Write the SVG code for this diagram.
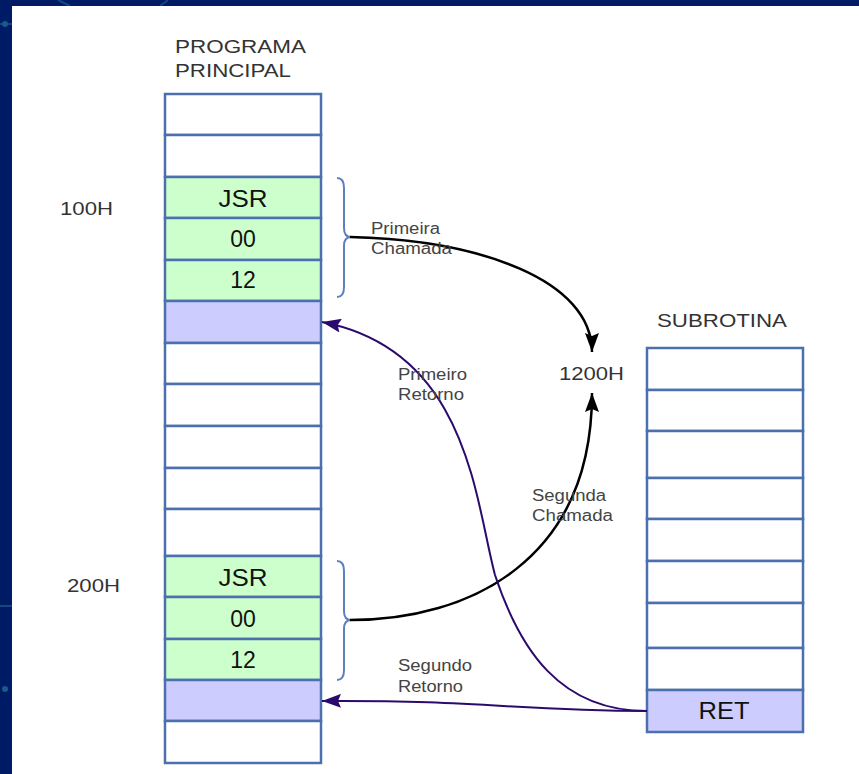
<svg xmlns="http://www.w3.org/2000/svg" width="859" height="774" viewBox="0 0 859 774">
  <style>
    .cell { stroke: #4b70ad; stroke-width: 2.5; fill: #ffffff; }
    .g { fill: #ccffcc; }
    .p { fill: #ccccff; }
    .ct { font-family: "Liberation Sans", Arial, sans-serif; font-size: 23px; fill: #111111; text-anchor: middle; }
    .hd { font-family: "Liberation Sans", Arial, sans-serif; font-size: 19px; fill: #333333; }
    .lb { font-family: "Liberation Sans", Arial, sans-serif; font-size: 16px; fill: #444444; }
    .brace { fill: none; stroke: #5b7fbf; stroke-width: 2; }
    .call { fill: none; stroke: #000000; stroke-width: 2.5; }
    .ret { fill: none; stroke: #2b0a6e; stroke-width: 2; }
  </style>
  <defs>
    <marker id="arrowBlack" markerUnits="userSpaceOnUse" markerWidth="20" markerHeight="14" refX="19" refY="7" orient="auto">
      <path d="M0,0 L19,7 L0,14 L3,7 Z" fill="#000000"/>
    </marker>
    <marker id="arrowPurple" markerUnits="userSpaceOnUse" markerWidth="20" markerHeight="14" refX="19" refY="7" orient="auto">
      <path d="M0,0 L19,7 L0,14 L3,7 Z" fill="#2b0a6e"/>
    </marker>
  </defs>

  <!-- slide frame -->
  <rect x="0" y="0" width="859" height="774" fill="#001b66"/>
  <g stroke="#1a5a8a" stroke-width="2" fill="none" opacity="0.7">
    <path d="M0,24 L12,24"/>
    <path d="M58,0 L70,6"/>
    <path d="M160,6 L168,0"/>
    <path d="M0,606 L12,606"/>
  </g>
  <circle cx="5" cy="24" r="3" fill="#1a5a8a"/>
  <circle cx="5" cy="689" r="3" fill="#1a5a8a"/>
  <rect x="12" y="6" width="847" height="768" fill="#ffffff"/>

  <!-- headings and addresses -->
  <g id="titles">
    <text class="hd" x="175" y="53" textLength="131" lengthAdjust="spacingAndGlyphs">PROGRAMA</text>
    <text class="hd" x="175" y="77" textLength="116" lengthAdjust="spacingAndGlyphs">PRINCIPAL</text>
    <text class="hd" x="657" y="327" textLength="130" lengthAdjust="spacingAndGlyphs">SUBROTINA</text>
    <text class="hd" x="60" y="215" textLength="53" lengthAdjust="spacingAndGlyphs">100H</text>
    <text class="hd" x="67" y="592" textLength="53" lengthAdjust="spacingAndGlyphs">200H</text>
    <text class="hd" x="559" y="380" textLength="65" lengthAdjust="spacingAndGlyphs">1200H</text>
  </g>

  <!-- main program memory -->
  <g id="programa-principal">
    <rect class="cell" x="165" y="94" width="156" height="41"/>
    <rect class="cell" x="165" y="135" width="156" height="42"/>
    <rect class="cell g" x="165" y="177" width="156" height="41"/>
    <rect class="cell g" x="165" y="218" width="156" height="42"/>
    <rect class="cell g" x="165" y="260" width="156" height="41"/>
    <rect class="cell p" x="165" y="301" width="156" height="42"/>
    <rect class="cell" x="165" y="343" width="156" height="41"/>
    <rect class="cell" x="165" y="384" width="156" height="42"/>
    <rect class="cell" x="165" y="426" width="156" height="42"/>
    <rect class="cell" x="165" y="468" width="156" height="41"/>
    <rect class="cell" x="165" y="509" width="156" height="47"/>
    <rect class="cell g" x="165" y="556" width="156" height="41"/>
    <rect class="cell g" x="165" y="597" width="156" height="42"/>
    <rect class="cell g" x="165" y="639" width="156" height="41"/>
    <rect class="cell p" x="165" y="680" width="156" height="41"/>
    <rect class="cell" x="165" y="721" width="156" height="42"/>
    <text class="ct" x="243" y="207" textLength="49" lengthAdjust="spacingAndGlyphs">JSR</text>
    <text class="ct" x="243" y="247">00</text>
    <text class="ct" x="243" y="288">12</text>
    <text class="ct" x="243" y="586" textLength="49" lengthAdjust="spacingAndGlyphs">JSR</text>
    <text class="ct" x="243" y="627">00</text>
    <text class="ct" x="243" y="668">12</text>
  </g>

  <!-- subroutine memory -->
  <g id="subrotina">
    <rect class="cell" x="647" y="348" width="156" height="42"/>
    <rect class="cell" x="647" y="390" width="156" height="41"/>
    <rect class="cell" x="647" y="431" width="156" height="47"/>
    <rect class="cell" x="647" y="478" width="156" height="41"/>
    <rect class="cell" x="647" y="519" width="156" height="42"/>
    <rect class="cell" x="647" y="561" width="156" height="42"/>
    <rect class="cell" x="647" y="603" width="156" height="45"/>
    <rect class="cell" x="647" y="648" width="156" height="42"/>
    <rect class="cell p" x="647" y="690" width="156" height="42"/>
    <text class="ct" x="724" y="719" textLength="51" lengthAdjust="spacingAndGlyphs">RET</text>
  </g>

  <!-- braces grouping each JSR instruction -->
  <g id="chaves">
    <path class="brace" d="M337,178 Q344,178 344,188 L344,228 Q344,237 351,237 Q344,237 344,246 L344,287 Q344,297 337,297"/>
    <path class="brace" d="M337,561 Q344,561 344,571 L344,611 Q344,620 351,620 Q344,620 344,629 L344,670 Q344,680 337,680"/>
  </g>

  <!-- connectors -->
  <g id="conectores">
    <path class="call" d="M350,237 C480,240 592,280 592,352" marker-end="url(#arrowBlack)"/>
    <path class="call" d="M350,620 C470,620 592,560 592,393" marker-end="url(#arrowBlack)"/>
    <path class="ret" d="M647,711 C560,711 520,650 495,575 C475,500 468,350 322,322" marker-end="url(#arrowPurple)"/>
    <path class="ret" d="M647,711 C520,711 480,700 322,701" marker-end="url(#arrowPurple)"/>
  </g>

  <!-- connector labels -->
  <g id="rotulos">
    <text class="lb" x="371" y="234" textLength="69" lengthAdjust="spacingAndGlyphs">Primeira</text>
    <text class="lb" x="371" y="254" textLength="81" lengthAdjust="spacingAndGlyphs">Chamada</text>
    <text class="lb" x="398" y="380" textLength="69" lengthAdjust="spacingAndGlyphs">Primeiro</text>
    <text class="lb" x="398" y="400" textLength="66" lengthAdjust="spacingAndGlyphs">Retorno</text>
    <text class="lb" x="532" y="501" textLength="74" lengthAdjust="spacingAndGlyphs">Segunda</text>
    <text class="lb" x="532" y="521" textLength="81" lengthAdjust="spacingAndGlyphs">Chamada</text>
    <text class="lb" x="398" y="671" textLength="74" lengthAdjust="spacingAndGlyphs">Segundo</text>
    <text class="lb" x="398" y="692" textLength="65" lengthAdjust="spacingAndGlyphs">Retorno</text>
  </g>
</svg>
